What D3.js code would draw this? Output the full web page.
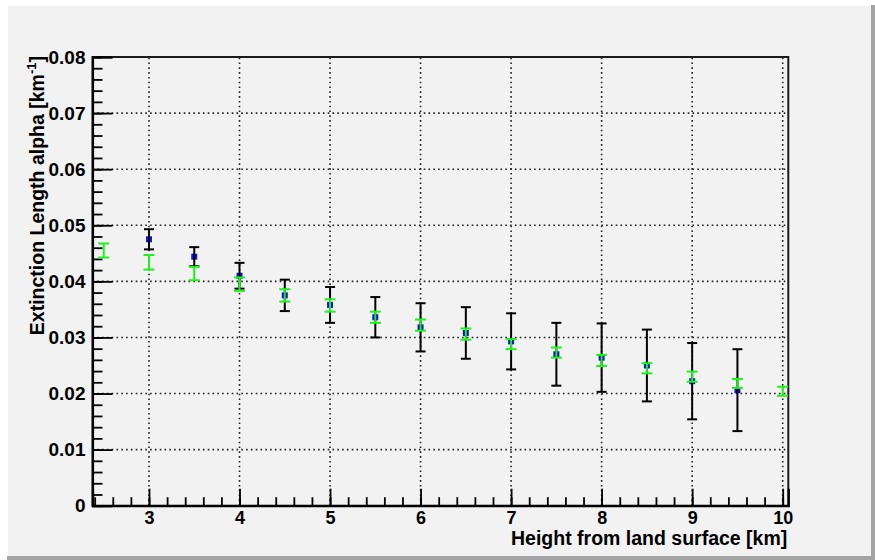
<!DOCTYPE html>
<html>
<head>
<meta charset="utf-8">
<script src="https://cdn.jsdelivr.net/npm/d3@7/dist/d3.min.js"></script>
<style>
  body { margin: 0; background: #fff; }
  text { font-family: "Liberation Sans", Arial, sans-serif; font-weight: bold; fill: #000; }
</style>
</head>
<body>
<svg id="chart" width="875" height="560"></svg>
<script>
// Extinction coefficient vs height: measured points (blue markers, black errors)
const setAHeights = [3, 3.5, 4, 4.5, 5, 5.5, 6, 6.5, 7, 7.5, 8, 8.5, 9, 9.5];
const setAAlpha   = [0.0475, 0.0444, 0.0410, 0.0375, 0.0358, 0.0336, 0.0318, 0.0308, 0.0293, 0.0270, 0.0264, 0.0250, 0.0222, 0.0206];
const setAErr     = [0.0018, 0.0017, 0.0023, 0.0028, 0.0032, 0.0036, 0.0043, 0.0046, 0.0050, 0.0056, 0.0061, 0.0064, 0.0068, 0.0073];

// Second series (green error bars only)
const setBHeights = [2.5, 3, 3.5, 4, 4.5, 5, 5.5, 6, 6.5, 7, 7.5, 8, 8.5, 9, 9.5, 10];
const setBAlpha   = [0.0455, 0.0434, 0.0414, 0.0395, 0.0375, 0.0357, 0.0336, 0.0322, 0.0306, 0.0288, 0.0273, 0.0259, 0.0245, 0.0230, 0.0218, 0.0204];
const setBErr     = [0.00125, 0.0013, 0.0012, 0.0012, 0.0011, 0.0011, 0.0010, 0.0010, 0.0010, 0.0009, 0.0009, 0.0010, 0.0009, 0.0009, 0.0008, 0.0008];

const xTicks = [3, 4, 5, 6, 7, 8, 9, 10];
const yTicks = [0, 0.01, 0.02, 0.03, 0.04, 0.05, 0.06, 0.07, 0.08];
const xTitle = "Height from land surface [km]";
const yTitle = "Extinction Length alpha [km";

const svg = d3.select("#chart");
const W = 875, H = 560;

// canvas with bevelled border
svg.append("rect").attr("x", 0).attr("y", 0).attr("width", W).attr("height", H).attr("fill", "#ffffff");
svg.append("rect").attr("x", 8).attr("y", 6).attr("width", 863).attr("height", 550).attr("fill", "#f2f2f2");
svg.append("rect").attr("x", 7).attr("y", 556).attr("width", W - 7).attr("height", 4).attr("fill", "#a4a4a4");
svg.append("rect").attr("x", 871).attr("y", 5).attr("width", 4).attr("height", H - 5).attr("fill", "#a4a4a4");

const frame = { left: 92.5, right: 788.3, top: 57, bottom: 505.7 };
const x = d3.scaleLinear().domain([2.376, 10.062]).range([frame.left, frame.right]);
const y = d3.scaleLinear().domain([0, 0.08]).range([frame.bottom, frame.top]);

// dotted grid
const grid = svg.append("g").attr("stroke", "#222").attr("stroke-width", 1.6)
  .attr("stroke-dasharray", "1.6 3.2").attr("fill", "none");
grid.selectAll("line.gx").data(xTicks).join("line").attr("class", "gx")
  .attr("x1", d => x(d)).attr("x2", d => x(d)).attr("y1", frame.bottom).attr("y2", frame.top);
grid.selectAll("line.gy").data(yTicks.filter(v => v > 0 && v < 0.08)).join("line").attr("class", "gy")
  .attr("x1", frame.left).attr("x2", frame.right).attr("y1", d => y(d)).attr("y2", d => y(d));

// frame
svg.append("rect").attr("x", frame.left).attr("y", frame.top)
  .attr("width", frame.right - frame.left).attr("height", frame.bottom - frame.top)
  .attr("fill", "none").attr("stroke", "#1a1a1a").attr("stroke-width", 2);

// y axis: minor and major ticks pointing into the frame
const yMinor = d3.range(0, 0.0801, 0.002);
svg.append("g").attr("transform", `translate(${frame.left},0)`)
  .call(d3.axisLeft(y).tickValues(yMinor).tickSize(-10).tickFormat(""))
  .call(g => g.select(".domain").remove())
  .call(g => g.selectAll("line").attr("stroke", "#000").attr("stroke-width", 1.8));
svg.append("g").attr("transform", `translate(${frame.left},0)`)
  .call(d3.axisLeft(y).tickValues(yTicks).tickSize(-20).tickPadding(7)
    .tickFormat(d => d === 0 ? "0" : d3.format(".2f")(d)))
  .call(g => g.select(".domain").attr("stroke", "#000").attr("stroke-width", 2.2))
  .call(g => g.selectAll("line").attr("stroke", "#000").attr("stroke-width", 1.8))
  .call(g => g.selectAll("text").attr("font-size", 19).attr("font-family", null).attr("fill", "#000"));

// x axis
const xMinor = d3.range(2.4, 10.001, 0.2);
svg.append("g").attr("transform", `translate(0,${frame.bottom})`)
  .call(d3.axisBottom(x).tickValues(xMinor).tickSize(-8.5).tickFormat(""))
  .call(g => g.select(".domain").remove())
  .call(g => g.selectAll("line").attr("stroke", "#000").attr("stroke-width", 1.8));
svg.append("g").attr("transform", `translate(0,${frame.bottom})`)
  .call(d3.axisBottom(x).tickValues(xTicks).tickSize(-17).tickPadding(6).tickFormat(d3.format("d")))
  .call(g => g.select(".domain").attr("stroke", "#000").attr("stroke-width", 2.2))
  .call(g => g.selectAll("line").attr("stroke", "#000").attr("stroke-width", 1.8))
  .call(g => g.selectAll("text").attr("font-size", 18).attr("font-family", null).attr("fill", "#000")
    .attr("y", 18.8).attr("dy", 0));

// axis titles
svg.append("text").attr("x", frame.right - 1).attr("y", 545)
  .attr("text-anchor", "end").attr("font-size", 19.5).text(xTitle);
const yt = svg.append("text").attr("transform", `translate(43.5,${frame.top - 1}) rotate(-90)`)
  .attr("text-anchor", "end").attr("font-size", 19.5);
yt.append("tspan").text(yTitle);
yt.append("tspan").attr("font-size", 13).attr("dy", -8).text("-1");
yt.append("tspan").attr("dy", 8).text("]");

// error bar helper
function errorBars(hs, vs, es, color, capW) {
  const g = svg.append("g").attr("stroke", color).attr("stroke-width", 2).attr("fill", "none");
  const data = hs.map((h, i) => ({ h, v: vs[i], e: es[i] }));
  g.selectAll("line.v").data(data).join("line").attr("class", "v")
    .attr("x1", d => x(d.h)).attr("x2", d => x(d.h))
    .attr("y1", d => y(d.v - d.e)).attr("y2", d => y(d.v + d.e));
  g.selectAll("line.t").data(data).join("line").attr("class", "t")
    .attr("x1", d => x(d.h) - capW / 2).attr("x2", d => x(d.h) + capW / 2)
    .attr("y1", d => y(d.v + d.e)).attr("y2", d => y(d.v + d.e));
  g.selectAll("line.b").data(data).join("line").attr("class", "b")
    .attr("x1", d => x(d.h) - capW / 2).attr("x2", d => x(d.h) + capW / 2)
    .attr("y1", d => y(d.v - d.e)).attr("y2", d => y(d.v - d.e));
}

// blue square markers
svg.append("g").selectAll("rect").data(setAHeights).join("rect")
  .attr("x", d => x(d) - 3).attr("y", (d, i) => y(setAAlpha[i]) - 3)
  .attr("width", 6).attr("height", 6).attr("fill", "#1414d2");

errorBars(setAHeights, setAAlpha, setAErr, "#000", 10);
errorBars(setBHeights, setBAlpha, setBErr, "#22ee22", 11);
</script>
</body>
</html>
